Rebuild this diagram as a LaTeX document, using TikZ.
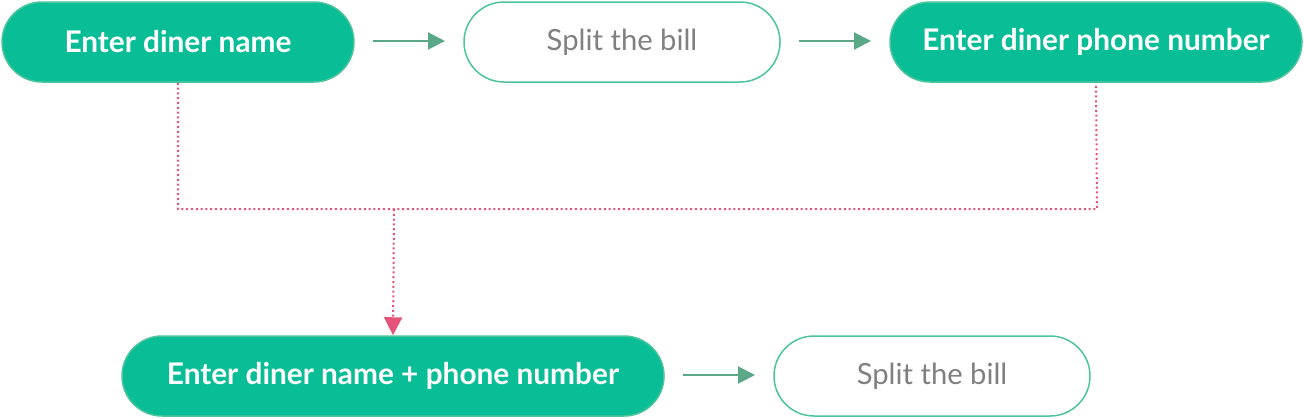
\documentclass[tikz,border=0pt]{standalone}
\usepackage{fontspec}
\setmainfont{Lato}
\usetikzlibrary{arrows.meta}
\definecolor{gfill}{HTML}{09BE96}
\definecolor{gedge}{HTML}{4DC49C}
\definecolor{garrow}{HTML}{5BA889}
\definecolor{pinkline}{HTML}{E5537A}
\definecolor{graytext}{HTML}{808080}
\tikzset{
  solidbox/.style={draw=gedge, line width=0.75pt, fill=gfill, text=white, font=\bfseries\fontsize{14.9}{17}\selectfont, rounded corners=20pt, minimum height=40pt, inner sep=0pt},
  hollowbox/.style={draw=gedge, line width=0.75pt, fill=white, text=graytext, font=\fontsize{14.6}{17}\selectfont, rounded corners=20pt, minimum height=40pt, inner sep=0pt},
  flowarrow/.style={draw=garrow, line width=1pt, -{Triangle[length=8.5pt,width=8.5pt]}},
  dotline/.style={draw=pinkline, line width=1pt, dash pattern=on 1pt off 1.4pt},
  dotarrow/.style={dotline, -{Triangle[length=9pt,width=9pt,fill=pinkline]}},
}
\begin{document}
\begin{tikzpicture}[x=0.5pt,y=-0.5pt]
\useasboundingbox (0,0) rectangle (1304,418);
\node[solidbox, minimum width=176pt] (a) at (178,42) {Enter diner name};
\node[hollowbox, minimum width=158pt] (b) at (622,42) {Split the bill};
\node[solidbox, minimum width=206pt] (c) at (1096,42) {Enter diner phone number};
\node[solidbox, minimum width=271pt] (d) at (393,376) {Enter diner name + phone number};
\node[hollowbox, minimum width=158pt] (e) at (932,376) {Split the bill};
\coordinate (ja) at (178,209);
\coordinate (jc) at (1097,209);
\coordinate (jm) at (394,209);
\coordinate (a1s) at (373,41);
\coordinate (a1e) at (445,41);
\coordinate (a2s) at (799,41);
\coordinate (a2e) at (871,41);
\coordinate (a3s) at (683,375);
\coordinate (a3e) at (755,375);
\draw[flowarrow] (a1s) -- (a1e);
\draw[flowarrow] (a2s) -- (a2e);
\draw[flowarrow] (a3s) -- (a3e);
\draw[dotline] (a.south) -- (ja) -- (jc) -- (c.south);
\draw[dotarrow] (jm) -- (d.north);
\end{tikzpicture}
\end{document}
